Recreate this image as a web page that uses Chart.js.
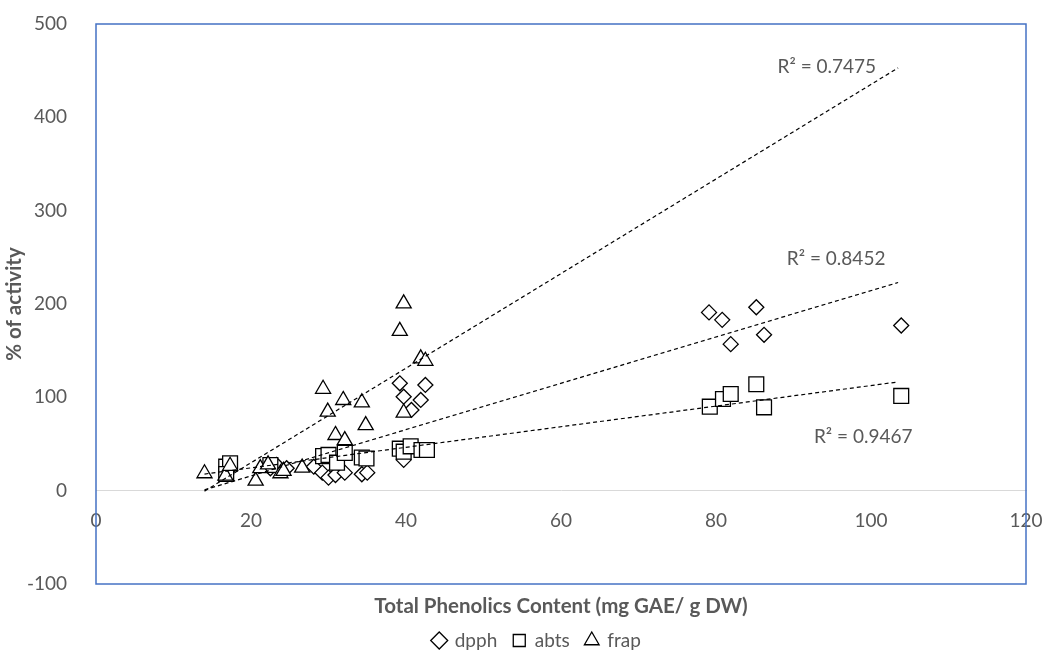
<!DOCTYPE html>
<html>
<head>
<meta charset="utf-8">
<script src="https://cdn.jsdelivr.net/npm/chart.js@4.4.1/dist/chart.umd.min.js"></script>
<style>
  html, body { margin: 0; padding: 0; background: #fff; }
</style>
</head>
<body>
<canvas id="grafica" width="1047" height="651"></canvas>
<script>
// datos
const dpphX = [17.0, 22.5, 23.3, 24.6, 28.1, 29.2, 30.0, 30.9, 32.1, 34.3, 35.0, 39.2, 39.7, 39.7, 40.7, 41.9, 42.5, 79.1, 80.8, 81.9, 85.2, 86.2, 103.9];
const dpphY = [22, 24, 27.5, 24, 25.7, 19.3, 14, 16.8, 19.3, 17.6, 19.3, 115, 100.7, 33, 86.5, 97.2, 113.3, 191, 183, 157, 196.5, 167, 177];

const abtsX = [16.8, 17.3, 16.8, 22.5, 29.3, 30.0, 31.1, 32.1, 34.3, 34.9, 39.2, 39.7, 40.6, 42.0, 42.7, 79.2, 80.9, 81.9, 85.2, 86.2, 103.9];
const abtsY = [25.7, 29.3, 17.9, 27.5, 37, 38.3, 30, 40.5, 35.5, 34.5, 45, 41.8, 47.5, 43.6, 43.6, 90, 98.2, 103.6, 114, 89.3, 101.5];

const frapX = [14.0, 16.7, 17.3, 20.6, 21.2, 22.2, 23.8, 24.2, 26.6, 29.3, 29.9, 30.9, 31.9, 32.1, 34.3, 34.8, 39.2, 39.7, 39.7, 41.9, 42.5];
const frapY = [18.5, 16, 26.5, 10.5, 24, 28, 18.5, 21, 24.5, 109, 84.5, 59.5, 97, 54, 94.5, 70, 171, 200.5, 83.5, 141.5, 139];

// lineas de tendencia (extremos leidos)
const trendX = [14.0, 103.5];
const dpphTrend = [0.9, 223];
const abtsTrend = [17.8, 116.5];
const frapTrend = [-0.5, 453];

const r2Texts = ['R² = 0.7475', 'R² = 0.8452', 'R² = 0.9467'];
const xTicks = [0, 20, 40, 60, 80, 100, 120];
const yTicks = [-100, 0, 100, 200, 300, 400, 500];

const puntos = (xs, ys) => xs.map((x, i) => ({ x: x, y: ys[i] }));

const gris = '#595959';
const fuente = 'Lato';

const r2Pos = [[94.3, 454], [95.5, 248], [99, 57.5]];

const sinRelleno = (s) => {
    s.paddingTop = 0;
    s.paddingBottom = 0;
    s.paddingLeft = 0;
    s.paddingRight = 0;
};

const etiquetasR2 = {
    id: 'etiquetasR2',
    afterDatasetsDraw(chart) {
        const { ctx, scales } = chart;
        ctx.save();
        ctx.font = '19px ' + fuente;
        ctx.fillStyle = gris;
        ctx.textAlign = 'center';
        ctx.textBaseline = 'middle';
        r2Texts.forEach((t, i) => {
            ctx.fillText(t, scales.x.getPixelForValue(r2Pos[i][0]), scales.y.getPixelForValue(r2Pos[i][1]));
        });
        ctx.restore();
    }
};

const marco = {
    id: 'marco',
    afterLayout(chart) {
        // la leyenda va un poco a la derecha, como en el original
        chart.legend.left += 24;
        chart.legend.right += 24;
    },
    afterDraw(chart) {
        const { ctx, chartArea: a } = chart;
        ctx.save();
        ctx.strokeStyle = '#4472C4';
        ctx.lineWidth = 1.5;
        ctx.strokeRect(a.left, a.top, a.right - a.left, a.bottom - a.top);
        ctx.restore();
    }
};

const serie = (label, data, style, radius, order) => ({
    label: label,
    data: data,
    pointStyle: style,
    pointRadius: radius,
    pointHoverRadius: radius,
    backgroundColor: '#ffffff',
    borderColor: '#000000',
    borderWidth: 1.3,
    showLine: false,
    order: order
});

const tendencia = (label, ys) => ({
    type: 'line',
    label: label,
    data: puntos(trendX, ys),
    borderColor: '#000000',
    borderWidth: 1.2,
    borderDash: [4, 3],
    pointRadius: 0,
    fill: false,
    order: 0
});

const $grafica = document.querySelector('#grafica');

new Chart($grafica, {
    type: 'scatter',
    data: {
        datasets: [
            serie('dpph', puntos(dpphX, dpphY), 'rectRot', 7.5, 3),
            serie('abts', puntos(abtsX, abtsY), 'rect', 10.5, 2),
            serie('frap', puntos(frapX, frapY), 'triangle', 8.7, 1),
            tendencia('trend dpph', dpphTrend),
            tendencia('trend abts', abtsTrend),
            tendencia('trend frap', frapTrend)
        ]
    },
    options: {
        responsive: false,
        animation: false,
        layout: { padding: { top: 24, right: 21, left: 0, bottom: 0 } },
        plugins: {
            legend: {
                position: 'bottom',
                maxHeight: 36,
                labels: {
                    usePointStyle: true,
                    boxWidth: 12,
                    boxHeight: 12,
                    padding: 16,
                    color: gris,
                    font: { family: fuente, size: 19 },
                    filter: (item) => !item.text.startsWith('trend'),
                    sort: (a, b) => a.datasetIndex - b.datasetIndex
                }
            },
            tooltip: { enabled: false }
        },
        scales: {
            x: {
                type: 'linear',
                position: 'bottom',
                min: 0,
                max: 120,
                ticks: { display: false },
                grid: { display: false },
                border: { display: false },
                title: {
                    display: true,
                    text: 'Total Phenolics Content (mg GAE/ g DW)',
                    color: gris,
                    font: { family: fuente, size: 20.5, weight: 'bold', lineHeight: 0.8 },
                    padding: 0
                },
                afterFit: (s) => { s.height = 31; sinRelleno(s); }
            },
            xt: {
                type: 'linear',
                position: { y: 0 },
                min: 0,
                max: 120,
                afterBuildTicks: (s) => { s.ticks = xTicks.map(v => ({ value: v })); },
                ticks: { padding: 11, color: gris, font: { family: fuente, size: 19 } },
                grid: { display: false },
                border: { display: true, color: '#d9d9d9', width: 1 },
                afterFit: sinRelleno
            },
            y: {
                min: -100,
                max: 500,
                afterBuildTicks: (s) => { s.ticks = yTicks.map(v => ({ value: v })); },
                ticks: { padding: 21, color: gris, font: { family: fuente, size: 19 } },
                grid: { display: false },
                border: { display: false },
                title: {
                    display: true,
                    text: '% of activity',
                    color: gris,
                    font: { family: fuente, size: 20.5, weight: 'bold', lineHeight: 0.8 },
                    padding: { top: 6, bottom: 0 }
                },
                afterFit: (s) => { s.width = 96; sinRelleno(s); }
            }
        }
    },
    plugins: [etiquetasR2, marco]
});
</script>
</body>
</html>
